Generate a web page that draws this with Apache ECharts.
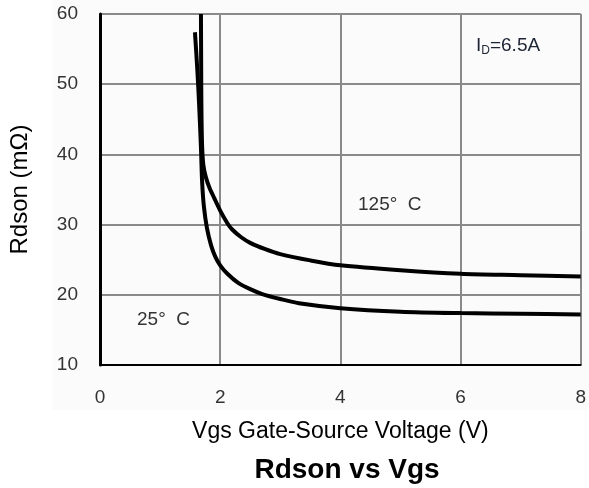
<!DOCTYPE html>
<html>
<head>
<meta charset="utf-8">
<script src="https://cdn.jsdelivr.net/npm/echarts@6/dist/echarts.min.js"></script>
<style>
  html, body { margin: 0; padding: 0; background: #ffffff; }
  #chart { width: 589px; height: 488px; }
</style>
</head>
<body>
<div id="chart"></div>
<script>
// Gate-source voltage (V) vs on-resistance (mΩ), ID = 6.5 A
const vgs25 = [1.58, 1.62, 1.65, 1.68, 1.70, 1.73, 1.78, 1.85, 1.92, 2.00, 2.12, 2.30, 2.50, 2.70, 3.00, 3.31, 4.00, 5.00, 6.00, 7.00, 8.00];
const rds25 = [57.4, 52.0, 47.0, 41.0, 36.0, 32.5, 29.5, 27.0, 25.4, 24.2, 23.0, 21.7, 20.8, 20.1, 19.4, 18.8, 18.1, 17.6, 17.4, 17.3, 17.2];

const vgs125 = [1.68, 1.685, 1.69, 1.70, 1.72, 1.76, 1.82, 1.90, 2.00, 2.12, 2.20, 2.35, 2.50, 2.75, 3.00, 3.50, 4.00, 5.00, 6.00, 7.00, 8.00];
const rds125 = [60.0, 50.0, 45.0, 41.0, 38.5, 36.8, 35.3, 33.8, 32.0, 30.2, 29.3, 28.2, 27.4, 26.5, 25.8, 24.9, 24.2, 23.5, 23.0, 22.8, 22.6];

const xTicks = { min: 0, max: 8, step: 2 };
const yTicks = { min: 10, max: 60, step: 10 };

const labels = {
  title: 'Rdson vs Vgs',
  xName: 'Vgs Gate-Source Voltage (V)',
  yName: 'Rdson (mΩ)',
  t25: '25°  C',
  t125: '125°  C'
};

const pairs = (xs, ys) => xs.map((x, i) => [x, ys[i]]);
const FONT = 'Liberation Sans, Arial, sans-serif';

const chart = echarts.init(document.getElementById('chart'), null, { renderer: 'canvas' });

const curveStyle = { color: '#000', width: 4 };

chart.setOption({
  backgroundColor: '#ffffff',
  animation: false,
  title: {
    text: labels.title,
    left: 342,
    top: 451,
    textAlign: 'center',
    textStyle: { fontFamily: FONT, fontSize: 28, fontWeight: 'bold', color: '#000' }
  },
  grid: { left: 100, right: 7, top: 14, bottom: 123, containLabel: false },
  xAxis: {
    type: 'value',
    min: xTicks.min, max: xTicks.max, interval: xTicks.step,
    name: labels.xName,
    nameLocation: 'middle',
    nameGap: 55,
    nameTextStyle: { fontFamily: FONT, fontSize: 23, color: '#000' },
    axisLine: { show: true, lineStyle: { color: '#000', width: 2 } },
    axisTick: { show: false },
    axisLabel: { margin: 23, fontFamily: FONT, fontSize: 19, color: '#333' },
    splitLine: { show: true, lineStyle: { color: '#8a8a8a', width: 2 } }
  },
  yAxis: {
    type: 'value',
    min: yTicks.min, max: yTicks.max, interval: yTicks.step,
    name: labels.yName,
    nameLocation: 'middle',
    nameGap: 68,
    nameRotate: 90,
    nameTextStyle: { fontFamily: FONT, fontSize: 24, color: '#000' },
    axisLine: { show: true, lineStyle: { color: '#000', width: 3 } },
    axisTick: { show: false },
    axisLabel: { margin: 22, fontFamily: FONT, fontSize: 19, color: '#333' },
    splitLine: { show: true, lineStyle: { color: '#8a8a8a', width: 2 } }
  },
  graphic: [
    {
      type: 'rect', z: -10, silent: true,
      shape: { x: 53, y: 0, width: 536, height: 410 },
      style: { fill: '#fbfbfb' }
    },
    {
      type: 'text', left: 476, top: 36, z: 100,
      style: {
        text: '{a|I}{b|D}{a|=6.5A}',
        rich: {
          a: { fontFamily: FONT, fontSize: 19, fill: '#1d2433' },
          b: { fontFamily: FONT, fontSize: 12, fill: '#1d2433', padding: [10, 0, 0, 0] }
        }
      }
    },
    {
      type: 'text', left: 358, top: 195, z: 100,
      style: { text: labels.t125, font: '19px Liberation Sans, Arial, sans-serif', fill: '#333' }
    },
    {
      type: 'text', left: 137, top: 310, z: 100,
      style: { text: labels.t25, font: '19px Liberation Sans, Arial, sans-serif', fill: '#333' }
    }
  ],
  series: [
    {
      name: '25°C', type: 'line', data: pairs(vgs25, rds25),
      smooth: 0.3, showSymbol: false, clip: true,
      lineStyle: curveStyle, z: 5
    },
    {
      name: '125°C', type: 'line', data: pairs(vgs125, rds125),
      smooth: 0.3, showSymbol: false, clip: true,
      lineStyle: curveStyle, z: 5
    }
  ]
});
</script>
</body>
</html>
